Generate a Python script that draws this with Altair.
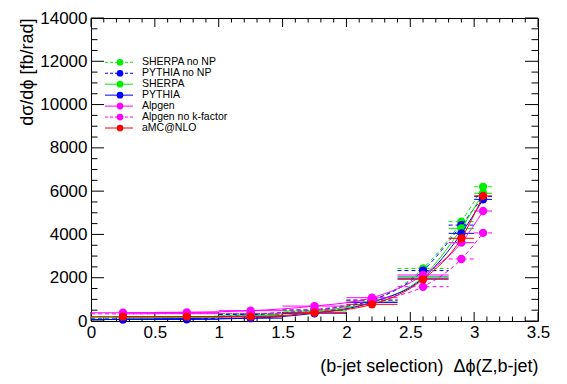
import altair as alt
import pandas as pd
import numpy as np

# ---- data ----
x_center = [0.25, 0.75, 1.25, 1.75, 2.2, 2.6, 2.9, 3.07]
x_low = [0.0, 0.5, 1.0, 1.5, 2.0, 2.4, 2.8, 3.0]
x_high = [0.5, 1.0, 1.5, 2.0, 2.4, 2.8, 3.0, 3.14]

series_names = ["SHERPA no NP", "PYTHIA no NP", "SHERPA", "PYTHIA",
                "Alpgen", "Alpgen no k-factor", "aMC@NLO"]
series_colors = ["#00ee00", "#0000ff", "#00ee00", "#0000ff",
                 "#ff00ff", "#ff00ff", "#ff0000"]
series_dashed = [True, True, False, False, False, True, False]

sherpa_nonp = [170, 180, 320, 510, 970, 2430, 4590, 6200]
pythia_nonp = [100, 110, 300, 500, 960, 2330, 4430, 5750]
sherpa = [150, 160, 240, 460, 880, 2050, 4280, 5900]
pythia = [70, 80, 130, 360, 860, 1980, 4050, 5620]
alpgen = [380, 400, 476, 690, 1077, 2125, 3620, 5080]
alpgen_nok = [330, 340, 340, 520, 960, 1585, 2865, 4070]
amcnlo = [200, 205, 200, 384, 770, 1925, 3820, 5780]
series_values = [sherpa_nonp, pythia_nonp, sherpa, pythia, alpgen, alpgen_nok, amcnlo]

x_ticks = [0, 0.5, 1, 1.5, 2, 2.5, 3, 3.5]
y_ticks = [0, 2000, 4000, 6000, 8000, 10000, 12000, 14000]

# ---- layout ----
W, H = 447, 303
FONT = "Liberation Sans"
xscale = alt.Scale(domain=[0, 3.5], nice=False, zero=False)
yscale = alt.Scale(domain=[0, 14000], nice=False, zero=False)

xaxis = alt.Axis(values=x_ticks, format="~g", ticks=False, tickSize=0, domain=False,
                 grid=False, labelFont=FONT, labelFontSize=17, labelColor="black",
                 labelPadding=3, labelFlush=False, labelOverlap=False,
                 title="(b-jet selection)\u00a0\u00a0\u0394\u03d5(Z,b-jet)",
                 titleFont=FONT, titleFontSize=18, titleFontWeight="normal",
                 titleColor="black", titleAlign="right", titleAnchor="end",
                 titleX=W, titleY=50, titleBaseline="alphabetic")
yaxis = alt.Axis(values=y_ticks, format="d", ticks=False, tickSize=0, domain=False,
                 grid=False, labelFont=FONT, labelFontSize=17, labelColor="black",
                 labelPadding=4, labelFlush=False, labelOverlap=False,
                 title="d\u03c3/d\u03d5 [fb/rad]", titleFont=FONT, titleFontSize=18,
                 titleFontWeight="normal", titleColor="black", titleAngle=270,
                 titleAlign="right", titleBaseline="alphabetic", titleX=-59, titleY=0)

X = lambda f: alt.X(f, scale=xscale, axis=xaxis)
Y = lambda f: alt.Y(f, scale=yscale, axis=yaxis)

layers = []

# inside ticks (ROOT style) on all four sides
x_major = np.arange(0, 3.5001, 0.5)
x_minor = np.array([v for v in np.arange(0, 3.5001, 0.1) if abs(v / 0.5 - round(v / 0.5)) > 1e-6])
y_major = np.arange(0, 14001, 2000)
y_minor = np.array([v for v in np.arange(0, 14001, 500) if v % 2000 != 0])

def xt(vals, length):
    df = pd.DataFrame({"t": vals})
    b = alt.Chart(df).mark_rule(color="black", strokeWidth=1).encode(
        x=X("t:Q"), y=alt.value(H), y2=alt.value(H - length))
    t = alt.Chart(df).mark_rule(color="black", strokeWidth=1).encode(
        x=X("t:Q"), y=alt.value(0), y2=alt.value(length))
    return [b, t]

def yt(vals, length):
    df = pd.DataFrame({"t": vals})
    l = alt.Chart(df).mark_rule(color="black", strokeWidth=1).encode(
        y=Y("t:Q"), x=alt.value(0), x2=alt.value(length))
    r = alt.Chart(df).mark_rule(color="black", strokeWidth=1).encode(
        y=Y("t:Q"), x=alt.value(W), x2=alt.value(W - length))
    return [l, r]

layers += xt(x_major, 9) + xt(x_minor, 4.5) + yt(y_major, 13) + yt(y_minor, 6.5)

# data series
for name, color, dashed, vals in zip(series_names, series_colors, series_dashed, series_values):
    df = pd.DataFrame({"x": x_center, "xlo": x_low, "xhi": x_high, "y": vals})
    dash = {"strokeDash": [4, 3]} if dashed else {}
    line = alt.Chart(df).mark_line(color=color, strokeWidth=1, interpolate="monotone", **dash).encode(
        x=X("x:Q"), y=Y("y:Q"))
    bars = alt.Chart(df).mark_rule(color=color, strokeWidth=1, **dash).encode(
        x=X("xlo:Q"), x2="xhi:Q", y=Y("y:Q"))
    pts = alt.Chart(df).mark_point(shape="circle", filled=True, size=70, color=color, opacity=1).encode(
        x=X("x:Q"), y=Y("y:Q"))
    layers += [bars, line, pts]

# legend (drawn manually, ROOT style)
for i, (name, color, dashed) in enumerate(zip(series_names, series_colors, series_dashed)):
    ly = 44.3 + 10.95 * i
    dash = {"strokeDash": [3, 2]} if dashed else {}
    ldf = pd.DataFrame({"name": [name]})
    layers.append(alt.Chart(ldf).mark_rule(color=color, strokeWidth=1, **dash).encode(
        x=alt.value(14), x2=alt.value(42), y=alt.value(ly)))
    layers.append(alt.Chart(ldf).mark_point(shape="circle", filled=True, size=45, color=color, opacity=1).encode(
        x=alt.value(29), y=alt.value(ly)))
    layers.append(alt.Chart(ldf).mark_text(font=FONT, fontSize=10.5, align="left", baseline="middle",
                                           color="black").encode(
        x=alt.value(51), y=alt.value(ly), text="name:N"))

chart = alt.layer(*layers).properties(
    width=W, height=H,
    autosize=alt.AutoSizeParams(type="none"),
    padding={"left": 83, "top": 10, "right": 21, "bottom": 55},
    background="white",
).configure_view(stroke="black", strokeWidth=1)

chart.save("out.html", embed_options={"renderer": "svg", "actions": False})
